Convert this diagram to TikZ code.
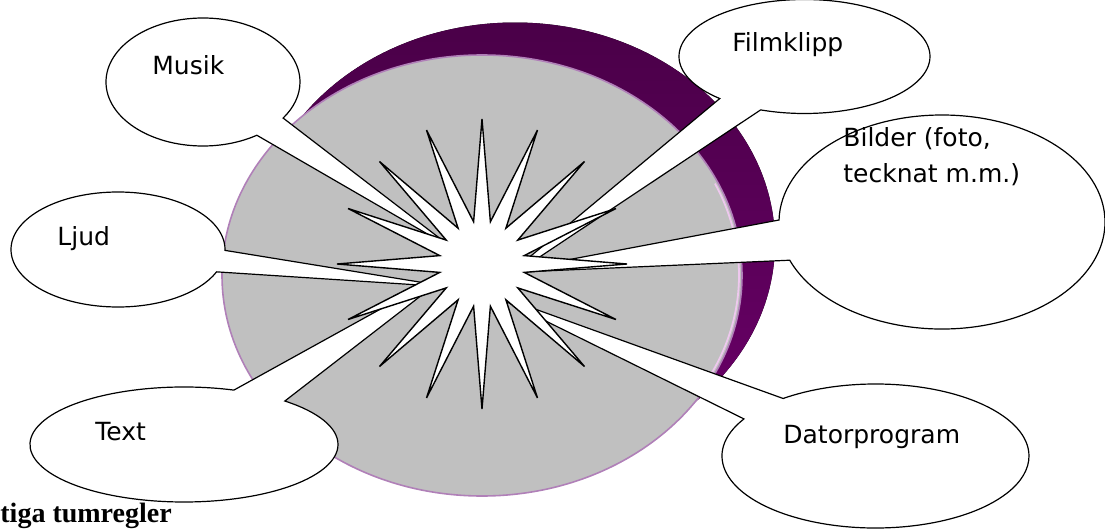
\documentclass[tikz,border=0pt]{standalone}
\usepackage{fontspec}
\setmainfont{DejaVu Sans}
\newfontfamily\rulefont{Liberation Serif}
\usetikzlibrary{shapes.geometric,shapes.callouts}

\definecolor{diskgray}{RGB}{192,192,192}
\definecolor{diskrim}{RGB}{176,128,184}
\definecolor{plumdark}{RGB}{74,0,72}
\definecolor{plumlight}{RGB}{108,0,106}
\definecolor{rimglow}{RGB}{238,200,238}

\tikzset{
  bubble/.style={ellipse callout, draw=black, fill=white, line width=0.6pt,
    inner sep=0pt, callout pointer arc=22},
  bubbletext/.style={anchor=base west, inner sep=0pt,
    font=\fontsize{12.5}{18}\selectfont, align=left},
}

\begin{document}
\begin{tikzpicture}[x=0.5pt,y=-0.5pt]
  \useasboundingbox (0,0) rectangle (1105,530);
  % the disk behind
  \fill[top color=plumdark, bottom color=plumlight] (515,243) ellipse [x radius=260, y radius=220.5];
  \draw[fill=diskgray, draw=diskrim, line width=0.8pt] (482,275.5) ellipse [x radius=260, y radius=220.5];
  \draw[rimglow, line width=0.9pt] (482,275.5) ++(-25:257 and 217.5) arc [start angle=-25, end angle=32, x radius=257, y radius=217.5];

  % callouts
  \node[bubble, minimum width=97pt, minimum height=64pt, callout absolute pointer={(455,250)}] (musik) at (203,82) {};
  \node[bubble, minimum width=107pt, minimum height=57.5pt, callout absolute pointer={(450,287)}] (ljud) at (118,249.5) {};
  \node[bubble, minimum width=154pt, minimum height=57.5pt, callout absolute pointer={(462,264)}] (text) at (184,444.5) {};
  \node[bubble, minimum width=125.5pt, minimum height=57pt, callout absolute pointer={(490,290)}] (film) at (804.5,56.5) {};
  \node[bubble, minimum width=163pt, minimum height=107pt, callout absolute pointer={(498,273)}] (bilder) at (942,222) {};
  \node[bubble, minimum width=153.5pt, minimum height=72pt, callout absolute pointer={(485,291)}] (dator) at (875.5,456) {};

  % the burst in the middle
  \node[star, star points=16, star point ratio=3.37, minimum size=145pt, inner sep=0pt,
    draw, fill=white, line width=0.7pt] (burst) at (482,264) {};

  \node[bubbletext] (musiktext) at (152,75) {Musik};
  \node[bubbletext] (ljudtext) at (57,245) {Ljud};
  \node[bubbletext] (texttext) at (95,440) {Text};
  \node[bubbletext] (filmtext) at (732,52) {Filmklipp};
  \node[bubbletext] (bildertext) at (843,182) {Bilder (foto,\\tecknat m.m.)};
  \node[bubbletext] (datortext) at (783,443) {Datorprogram};

  \node[anchor=base west, inner sep=0pt, font=\rulefont\bfseries\fontsize{14}{16}\selectfont] (regler) at (0,522) {tiga tumregler};
\end{tikzpicture}
\end{document}
